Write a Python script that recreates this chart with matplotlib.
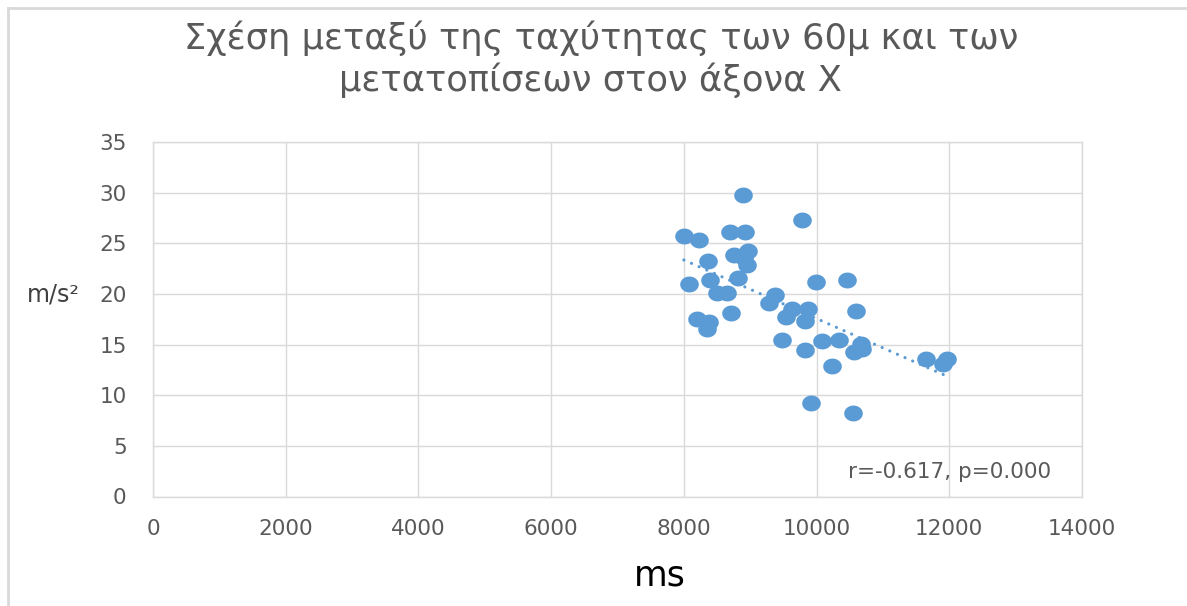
import numpy as np
import matplotlib
matplotlib.use("Agg")
import matplotlib.pyplot as plt
from matplotlib.path import Path
from matplotlib.markers import MarkerStyle
from matplotlib.lines import Line2D

# ---- data ----
ms_values = [8000, 8227, 8892, 8695, 8922, 9773, 8756, 8972, 8907, 8957,
             8363, 8389, 8076, 8821, 8503, 8655, 8201, 8378, 8343, 8706,
             9371, 9285, 9625, 9875, 9537, 9829, 9991, 10464, 10600, 9486,
             9825, 10086, 10331, 10227, 10671, 10559, 10691, 9913, 10555, 11654,
             11965, 11905]
speed_values = [25.7, 25.35, 29.8, 26.1, 26.1, 27.3, 23.9, 24.3, 23.6, 22.9,
                23.3, 21.4, 21.0, 21.55, 20.1, 20.1, 17.5, 17.2, 16.6, 18.1,
                19.9, 19.1, 18.5, 18.5, 17.7, 17.3, 21.2, 21.4, 18.3, 15.45,
                14.5, 15.4, 15.5, 12.9, 15.1, 14.25, 14.55, 9.2, 8.3, 13.6,
                13.6, 13.1]
x_ticks = [0, 2000, 4000, 6000, 8000, 10000, 12000, 14000]
y_ticks = [0, 5, 10, 15, 20, 25, 30, 35]
title_lines = ["Σχέση μεταξύ της ταχύτητας των 60μ και των",
               "μετατοπίσεων στον άξονα Χ"]
x_label = "ms"
y_label = "m/s²"
stats_text = "r=-0.617, p=0.000"

BLUE = "#5B9BD5"
GRID = "#D9D9D9"
TXT = "#595959"

fig = plt.figure(figsize=(11.87, 6.06), dpi=100)
W, H = 1187, 606
ax = fig.add_axes([153 / W, 1 - 496.5 / H, (1082 - 153) / W, (496.5 - 142.3) / H])

# elliptical marker (reference markers are slightly wider than tall)
t = np.linspace(0, 2 * np.pi, 60)
ell = Path(np.column_stack([1.17 * np.cos(t), np.sin(t)]), closed=True)
ax.scatter(ms_values, speed_values, s=13.4 ** 2, marker=MarkerStyle(ell),
           color=BLUE, linewidths=0, zorder=3)

# linear trend line
xs = np.array(ms_values, dtype=float)
ys = np.array(speed_values, dtype=float)
k, b = np.polyfit(xs, ys, 1)
xl = np.array([xs.min(), xs.max()])
ax.plot(xl, k * xl + b, color=BLUE, lw=2.3, linestyle=(0, (0.01, 2.6)),
        solid_capstyle="round", dash_capstyle="round", zorder=4)

ax.set_xlim(0, 14000)
ax.set_ylim(0, 35)
ax.set_xticks(x_ticks)
ax.set_yticks(y_ticks)
ax.set_xticklabels([str(v) for v in x_ticks])
ax.set_yticklabels([str(v) for v in y_ticks])
ax.grid(True, color=GRID, lw=1.0)
ax.set_axisbelow(True)
for sp in ax.spines.values():
    sp.set_color(GRID)
    sp.set_linewidth(1.0)
ax.tick_params(length=0, labelsize=15.5, labelcolor=TXT)
ax.tick_params(axis="x", pad=16)
ax.tick_params(axis="y", pad=19)

ax.text((1051 - 153) / 929, 0.069, stats_text, transform=ax.transAxes, ha="right",
        va="center", fontsize=15.5, color=TXT)

fig.text(601 / W, 1 - 49 / H, title_lines[0], ha="center", va="baseline",
         fontsize=25.4, color=TXT)
fig.text(590 / W, 1 - 91 / H, title_lines[1], ha="center", va="baseline",
         fontsize=25.4, color=TXT)
fig.text(660 / W, 1 - 576 / H, x_label, ha="center", va="center",
         fontsize=25, color="black")
fig.text(53 / W, 1 - 294 / H, y_label, ha="center", va="center",
         fontsize=17, color="#404040")

# chart frame (left and top edges visible in reference)
fig.add_artist(Line2D([8 / W, 8 / W], [0, 1 - 8 / H], color=GRID, lw=2,
                      transform=fig.transFigure))
fig.add_artist(Line2D([8 / W, 1], [1 - 8 / H, 1 - 8 / H], color=GRID, lw=2,
                      transform=fig.transFigure))

fig.savefig("out.png", dpi=100)
